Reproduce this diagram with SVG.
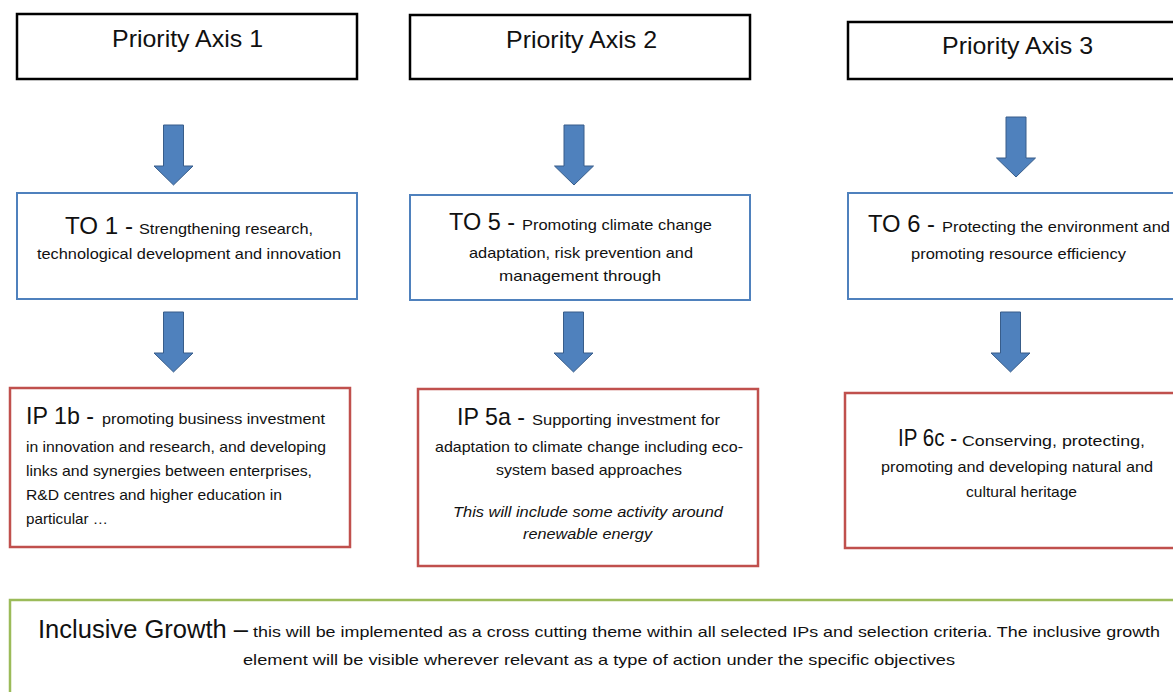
<svg xmlns="http://www.w3.org/2000/svg" xmlns:xlink="http://www.w3.org/1999/xlink" width="1173" height="692" viewBox="0 0 1173 692">
<style>
  text { font-family: "Liberation Sans", Arial, sans-serif; fill: #111; }
  .big { font-size: 24px; }
  .sm { font-size: 15px; }
  .it { font-size: 15px; font-style: italic; }
  .pa { fill: #fff; stroke: #000; stroke-width: 2.5; }
  .to { fill: #fff; stroke: #4f81bd; stroke-width: 2; }
  .ip { fill: #fff; stroke: #c0504d; stroke-width: 2.5; }
  .ig { fill: #fff; stroke: #9bbb59; stroke-width: 2.5; }
  .arr { fill: #4f81bd; stroke: #385d8a; stroke-width: 1; }
</style>
<defs>
  <path id="down" d="M-10,0 L10,0 L10,41 L19.5,41 L0,60 L-19.5,41 L-10,41 Z"/>
</defs>
<rect width="1173" height="692" fill="#fff"/>

<g id="connectors">
  <use xlink:href="#down" class="arr" transform="translate(173.5,125)"/>
  <use xlink:href="#down" class="arr" transform="translate(574,125)"/>
  <use xlink:href="#down" class="arr" transform="translate(1016,117)"/>
  <use xlink:href="#down" class="arr" transform="translate(173.5,312)"/>
  <use xlink:href="#down" class="arr" transform="translate(573.5,312)"/>
  <use xlink:href="#down" class="arr" transform="translate(1010.5,312)"/>
</g>

<g id="pa1">
  <rect class="pa" x="17" y="14" width="340" height="65"/>
  <text class="big" x="112" y="47" textLength="151" lengthAdjust="spacingAndGlyphs">Priority Axis 1</text>
</g>
<g id="pa2">
  <rect class="pa" x="410" y="15" width="340" height="64"/>
  <text class="big" x="506" y="48" textLength="151" lengthAdjust="spacingAndGlyphs">Priority Axis 2</text>
</g>
<g id="pa3">
  <rect class="pa" x="848" y="22" width="340" height="57"/>
  <text class="big" x="942" y="54" textLength="151" lengthAdjust="spacingAndGlyphs">Priority Axis 3</text>
</g>

<g id="to1">
  <rect class="to" x="17" y="193" width="340" height="106"/>
  <text class="big" x="65" y="234" textLength="68" lengthAdjust="spacingAndGlyphs">TO 1 -</text>
  <text class="sm" x="139" y="234" textLength="174" lengthAdjust="spacingAndGlyphs">Strengthening research,</text>
  <text class="sm" x="37" y="259" textLength="304" lengthAdjust="spacingAndGlyphs">technological development and innovation</text>
</g>
<g id="to5">
  <rect class="to" x="410" y="195" width="340" height="105"/>
  <text class="big" x="449" y="230" textLength="66" lengthAdjust="spacingAndGlyphs">TO 5 -</text>
  <text class="sm" x="522" y="230" textLength="190" lengthAdjust="spacingAndGlyphs">Promoting climate change</text>
  <text class="sm" x="469" y="258" textLength="224" lengthAdjust="spacingAndGlyphs">adaptation, risk prevention and</text>
  <text class="sm" x="499" y="281" textLength="162" lengthAdjust="spacingAndGlyphs">management through</text>
</g>
<g id="to6">
  <rect class="to" x="848" y="193" width="340" height="106"/>
  <text class="big" x="868" y="232" textLength="67" lengthAdjust="spacingAndGlyphs">TO 6 -</text>
  <text class="sm" x="942" y="232" textLength="228" lengthAdjust="spacingAndGlyphs">Protecting the environment and</text>
  <text class="sm" x="911" y="259" textLength="215" lengthAdjust="spacingAndGlyphs">promoting resource efficiency</text>
</g>

<g id="ip1b">
  <rect class="ip" x="10" y="388" width="340" height="159"/>
  <text class="big" x="26" y="424" textLength="68" lengthAdjust="spacingAndGlyphs">IP 1b -</text>
  <text class="sm" x="102" y="424" textLength="223" lengthAdjust="spacingAndGlyphs">promoting business investment</text>
  <text class="sm" x="26" y="452" textLength="300" lengthAdjust="spacingAndGlyphs">in innovation and research, and developing</text>
  <text class="sm" x="26" y="476" textLength="286" lengthAdjust="spacingAndGlyphs">links and synergies between enterprises,</text>
  <text class="sm" x="26" y="500" textLength="256" lengthAdjust="spacingAndGlyphs">R&amp;D centres and higher education in</text>
  <text class="sm" x="26" y="524" textLength="82" lengthAdjust="spacingAndGlyphs">particular …</text>
</g>
<g id="ip5a">
  <rect class="ip" x="418" y="389" width="340" height="177"/>
  <text class="big" x="457" y="425" textLength="68" lengthAdjust="spacingAndGlyphs">IP 5a -</text>
  <text class="sm" x="532" y="425" textLength="188" lengthAdjust="spacingAndGlyphs">Supporting investment for</text>
  <text class="sm" x="435" y="452" textLength="308" lengthAdjust="spacingAndGlyphs">adaptation to climate change including eco-</text>
  <text class="sm" x="496" y="475" textLength="186" lengthAdjust="spacingAndGlyphs">system based approaches</text>
  <text class="it" x="453" y="517" textLength="270" lengthAdjust="spacingAndGlyphs">This will include some activity around</text>
  <text class="it" x="523" y="539" textLength="129" lengthAdjust="spacingAndGlyphs">renewable energy</text>
</g>
<g id="ip6c">
  <rect class="ip" x="845" y="393" width="345" height="155"/>
  <text class="big" x="898" y="446" textLength="59" lengthAdjust="spacingAndGlyphs">IP 6c -</text>
  <text class="sm" x="962" y="446" textLength="183" lengthAdjust="spacingAndGlyphs">Conserving, protecting,</text>
  <text class="sm" x="881" y="472" textLength="272" lengthAdjust="spacingAndGlyphs">promoting and developing natural and</text>
  <text class="sm" x="966" y="497" textLength="111" lengthAdjust="spacingAndGlyphs">cultural heritage</text>
</g>

<g id="inclusive">
  <rect class="ig" x="10" y="600" width="1180" height="110"/>
  <text x="38" y="638" font-size="26" textLength="210" lengthAdjust="spacingAndGlyphs">Inclusive Growth –</text>
  <text class="sm" x="253" y="637" textLength="907" lengthAdjust="spacingAndGlyphs">this will be implemented as a cross cutting theme within all selected IPs and selection criteria. The inclusive growth</text>
  <text class="sm" x="243" y="665" textLength="712" lengthAdjust="spacingAndGlyphs">element will be visible wherever relevant as a type of action under the specific objectives</text>
</g>
</svg>
